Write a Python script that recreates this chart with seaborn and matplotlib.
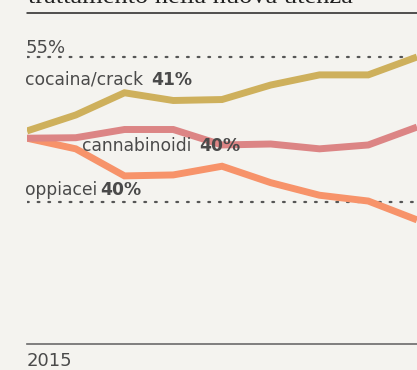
import matplotlib
matplotlib.use("Agg")
import matplotlib.pyplot as plt
from matplotlib.lines import Line2D
import seaborn as sns
import pandas as pd

years = [2015, 2016, 2017, 2018, 2019, 2020, 2021, 2022, 2023]
cocaina = [39.7, 43.0, 47.6, 46.0, 46.2, 49.2, 51.3, 51.3, 55.0]
cannabinoidi = [38.2, 38.3, 40.0, 40.0, 36.8, 37.0, 36.0, 36.8, 40.5]
oppiacei = [38.2, 36.0, 30.4, 30.6, 32.4, 29.0, 26.4, 25.2, 21.3]
series_names = ["oppiacei", "cannabinoidi", "cocaina/crack"]
colors = ["#F7936A", "#DC8585", "#CEB05C"]
label_values = {"cocaina/crack": "41%", "cannabinoidi": "40%", "oppiacei": "40%"}
grid_values = [55, 25]
tick_years = [2015, 2024]
title = "trattamento nella nuova utenza"

bg = "#F4F3EF"
sns.set_theme(style="white")
plt.rcParams["font.family"] = ["DejaVu Sans"]

df = pd.DataFrame({
    "anno": years * 3,
    "valore": oppiacei + cannabinoidi + cocaina,
    "serie": [series_names[0]] * len(years) + [series_names[1]] * len(years) + [series_names[2]] * len(years),
})

W, H = 417, 370
fig = plt.figure(figsize=(W / 100, H / 100), dpi=100, facecolor=bg)
px_per_year = 48.75
left_px = 27
ax_width_px = 500
ax = fig.add_axes([left_px / W, 26 / H, ax_width_px / W, 324 / H])
ax.set_facecolor(bg)

ppu = 145 / 30.0
ymin = 55 - (344 - 57) / ppu
ymax = 55 + (57 - 20) / ppu
ax.set_ylim(ymin, ymax)
ax.set_xlim(2015, 2015 + ax_width_px / px_per_year)

sns.lineplot(data=df, x="anno", y="valore", hue="serie", hue_order=series_names,
             palette=colors, linewidth=5.0, ax=ax, legend=False, sort=False)
for ln in ax.get_lines():
    ln.set_solid_capstyle("butt")
    ln.set_solid_joinstyle("miter")

for g in grid_values:
    ax.axhline(g, color="#555555", lw=1.6, linestyle=(0, (0.8, 4.0)),
               dash_capstyle="round", zorder=0)

txt_col = "#4a4a4a"
ax.text(2015 - 1 / px_per_year, 55 + 4 / ppu, "55%", fontsize=13, color=txt_col,
        ha="left", va="baseline")

lab_pos = {
    "cocaina/crack": (2015 - 2 / px_per_year, 55 - (85 - 57) / ppu),
    "cannabinoidi": (2015 + 55 / px_per_year, 55 - (151 - 57) / ppu),
    "oppiacei": (2015 - 2 / px_per_year, 55 - (195 - 57) / ppu),
}
gaps_px = {"cocaina/crack": 8, "cannabinoidi": 8, "oppiacei": 3}
fig.canvas.draw()
for name in series_names:
    x0, y0 = lab_pos[name]
    t = ax.text(x0, y0, name, fontsize=12.3, color=txt_col, ha="left", va="baseline")
    bb = t.get_window_extent(renderer=fig.canvas.get_renderer())
    xr = ax.transData.inverted().transform((bb.x1 + gaps_px[name], 0))[0]
    ax.text(xr, y0, label_values[name], fontsize=12.3, fontweight="bold", color=txt_col,
            ha="left", va="baseline")

ax.set_xticks(tick_years)
ax.set_xticklabels([str(y) for y in tick_years])
labs = ax.get_xticklabels()
labs[0].set_ha("left")
labs[-1].set_ha("right")
ax.tick_params(axis="x", length=0, pad=6, labelsize=13, labelcolor=txt_col)
ax.set_yticks([])
ax.set_xlabel("")
ax.set_ylabel("")
for s in ["top", "right", "left"]:
    ax.spines[s].set_visible(False)
ax.spines["bottom"].set_color("#6a6a6a")
ax.spines["bottom"].set_linewidth(1.2)

fig.text(28 / W, 1 - 3 / H, title, fontsize=19, family=["Liberation Serif", "DejaVu Serif"],
         color="#222222", ha="left", va="baseline")
fig.add_artist(Line2D([27 / W, 1.0], [1 - 13 / H, 1 - 13 / H], transform=fig.transFigure,
                      color="#222222", lw=1.1))

fig.savefig("out.png", dpi=100, facecolor=bg)
